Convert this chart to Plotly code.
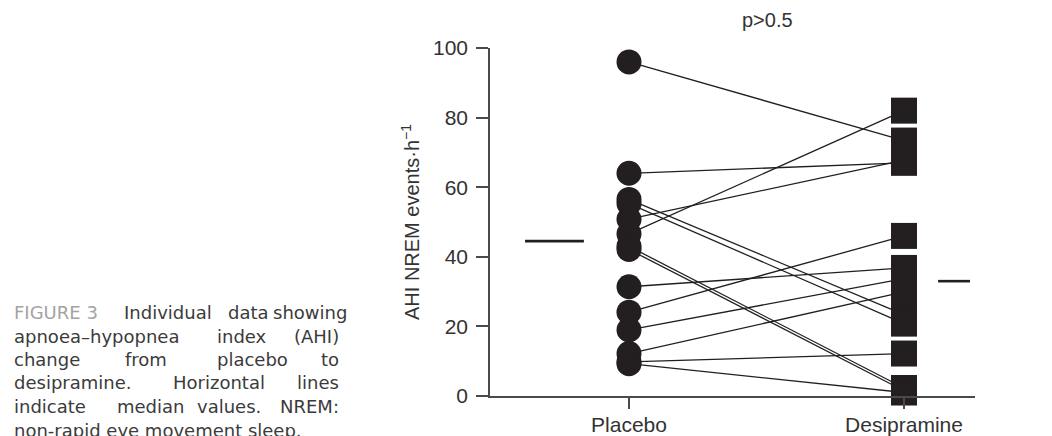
import plotly.graph_objects as go

# ---------------- data ----------------
categories = ["Placebo", "Desipramine"]
placebo = [96.0, 64.0, 56.5, 55.3, 50.8, 46.6, 43.0, 42.1, 31.4, 24.1, 19.0, 12.2, 9.8, 9.3]
desipramine = [73.4, 67.0, 23.4, 20.8, 67.8, 82.0, 2.3, 1.5, 36.8, 46.0, 33.7, 29.9, 12.2, 1.0]
median_placebo = 44.5
median_desipramine = 33.0
y_ticks = [0, 20, 40, 60, 80, 100]
p_label = "p>0.5"
y_title = "AHI NREM events·h<sup>−1</sup>"

# caption: (line centre y px, [(word, x px, anchor, colour)])
G, D = "#a3a3a3", "#3b3b3b"
caption_lines = [
    (312, [("FIGURE 3", 12, "left", G), ("Individual", 168, "center", D),
           ("data", 248, "center", D), ("showing", 310, "center", D)]),
    (336, [("apnoea–hypopnea", 12, "left", D), ("index", 242, "center", D),
           ("(AHI)", 341, "right", D)]),
    (359, [("change", 12, "left", D), ("from", 146, "center", D),
           ("placebo", 252, "center", D), ("to", 341, "right", D)]),
    (382, [("desipramine.", 12, "left", D), ("Horizontal", 219, "center", D),
           ("lines", 341, "right", D)]),
    (406, [("indicate", 12, "left", D), ("median", 150, "center", D),
           ("values.", 229, "center", D), ("NREM:", 341, "right", D)]),
    (430, [("non-rapid eye movement sleep.", 12, "left", D)]),
]

# ---------------- geometry ----------------
W, H = 1052, 436
L, R, T, B = 490, 975, 48, 396
X1_PX, X2_PX = 629, 904
unit = X2_PX - X1_PX
x_range = [1 + (L - X1_PX) / unit, 1 + (R - X1_PX) / unit]

def px2paper(px, py):
    return (px - L) / (R - L), (B - py) / (B - T)

ink = "#231f20"

fig = go.Figure()

# connecting lines
lx, ly = [], []
for p, d in zip(placebo, desipramine):
    lx += [1, 2, None]
    ly += [p, d, None]
fig.add_trace(go.Scatter(x=lx, y=ly, mode="lines", line=dict(color=ink, width=1.3),
                         hoverinfo="skip", showlegend=False, cliponaxis=False))

# markers
fig.add_trace(go.Scatter(x=[1] * len(placebo), y=placebo, mode="markers",
                         marker=dict(symbol="circle", size=25, color=ink, line=dict(width=0)),
                         showlegend=False, cliponaxis=False))
fig.add_trace(go.Scatter(x=[2] * len(desipramine), y=desipramine, mode="markers",
                         marker=dict(symbol="square", size=26, color=ink, line=dict(width=0)),
                         showlegend=False, cliponaxis=False))

# median lines
fig.add_trace(go.Scatter(x=[0.622, 0.836], y=[median_placebo] * 2, mode="lines",
                         line=dict(color=ink, width=2.6), showlegend=False, hoverinfo="skip"))
fig.add_trace(go.Scatter(x=[2.124, 2.24], y=[median_desipramine] * 2, mode="lines",
                         line=dict(color=ink, width=2.6), showlegend=False, hoverinfo="skip",
                         cliponaxis=False))

axis_col = "#4a4a4a"
fig.update_xaxes(range=x_range, tickvals=[1, 2], ticktext=categories, showgrid=False,
                 zeroline=False, showline=True, linecolor=axis_col, linewidth=1.5,
                 ticks="outside", ticklen=11, tickwidth=1.5, tickcolor=axis_col,
                 automargin=False, ticklabelstandoff=-2,
                 tickfont=dict(family="Liberation Sans, Arial", size=21, color="#333333"))
fig.update_yaxes(range=[0, 100], tickvals=y_ticks, showgrid=False, zeroline=False,
                 showline=True, linecolor=axis_col, linewidth=1.5,
                 ticks="outside", ticklen=12, tickwidth=1.5, tickcolor=axis_col,
                 automargin=False, ticklabelstandoff=4,
                 tickfont=dict(family="Liberation Sans, Arial", size=21, color="#333333"))

annotations = []
# y title
ax, ay = px2paper(410, 222)
annotations.append(dict(x=ax, y=ay, xref="paper", yref="paper", text=y_title, showarrow=False,
                        textangle=-90, xanchor="center", yanchor="middle",
                        font=dict(family="Liberation Sans, Arial", size=20, color="#333333")))
# p label
ax, ay = px2paper(767, 20)
annotations.append(dict(x=ax, y=ay, xref="paper", yref="paper", text=p_label, showarrow=False,
                        xanchor="center", yanchor="middle",
                        font=dict(family="Liberation Sans, Arial", size=20, color="#333333")))
# caption
for cy, words in caption_lines:
    for word, wx, anchor, col in words:
        ax, ay = px2paper(wx, cy)
        annotations.append(dict(x=ax, y=ay, xref="paper", yref="paper", text=word,
                                showarrow=False, xanchor=anchor, yanchor="middle",
                                font=dict(family="DejaVu Sans", size=18, color=col)))

fig.update_layout(width=W, height=H, margin=dict(l=L, r=W - R, t=T, b=H - B, autoexpand=False),
                  paper_bgcolor="white", plot_bgcolor="white", annotations=annotations)

fig.write_html("out.html", config={"displayModeBar": False})
